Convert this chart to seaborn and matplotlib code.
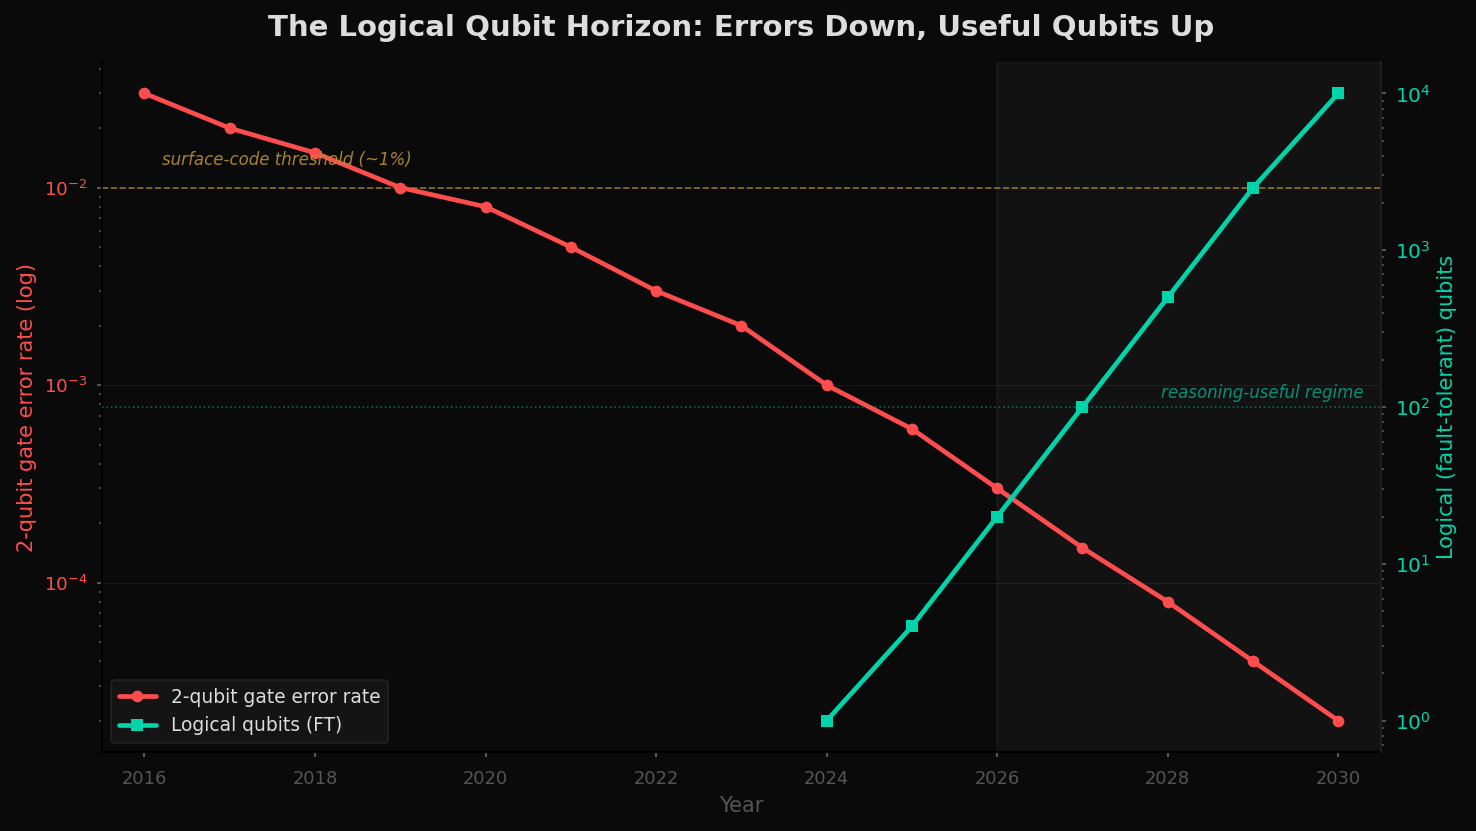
import matplotlib
matplotlib.use("Agg")
import matplotlib.pyplot as plt
import seaborn as sns
import pandas as pd

years = [2016, 2017, 2018, 2019, 2020, 2021, 2022, 2023, 2024, 2025, 2026, 2027, 2028, 2029, 2030]
error_rate = [3e-2, 2e-2, 1.5e-2, 1e-2, 8e-3, 5e-3, 3e-3, 2e-3, 1e-3, 6e-4, 3e-4, 1.5e-4, 8e-5, 4e-5, 2e-5]
lq_years = [2024, 2025, 2026, 2027, 2028, 2029, 2030]
logical_qubits = [1, 4, 20, 100, 500, 2500, 10000]

RED = "#ff4d4d"
GREEN = "#00d4aa"
BG = "#0a0a0a"

sns.set_theme(style="dark")
plt.rcParams["font.family"] = ["DejaVu Sans"]
plt.rcParams.update({
    "figure.facecolor": BG,
    "axes.facecolor": BG,
    "savefig.facecolor": BG,
    "axes.edgecolor": "#1e1e1e",
    "xtick.color": "#555555",
    "ytick.color": "#555555",
})

df_err = pd.DataFrame({"Year": years, "err": error_rate})
df_lq = pd.DataFrame({"Year": lq_years, "lq": logical_qubits})

fig, ax = plt.subplots(figsize=(12.3, 6.925), dpi=120)
fig.subplots_adjust(left=0.069, right=0.9356, top=0.9254, bottom=0.095)

ax.axvspan(2026, 2030.5, facecolor="white", alpha=0.035, edgecolor="#ffffff", linewidth=1.0, zorder=0)

sns.lineplot(data=df_err, x="Year", y="err", ax=ax, color=RED, marker="o", markersize=7,
             markeredgewidth=0, linewidth=2.8, label="2-qubit gate error rate", legend=False, zorder=3)
ax.set_yscale("log")
ax.set_xlim(2015.5, 2030.5)
ax.axhline(1e-2, color="#b8902f", linestyle="--", linewidth=1.0, alpha=0.75, zorder=1)
ax.text(2016.2, 1.3e-2, "surface-code threshold (~1%)", color="#b8902f", style="italic",
        fontsize=10, alpha=0.9)
ax.grid(True, which="major", axis="y", color="#ffffff", alpha=0.06, linewidth=0.7)
ax.grid(False, axis="x")
ax.set_ylabel("2-qubit gate error rate (log)", color=RED, fontsize=12.5)
ax.set_xlabel("Year", color="#555555", fontsize=12.5, labelpad=5)
ax.tick_params(axis="y", which="both", colors="#555555", labelcolor=RED, labelsize=11, left=True, pad=5.5)
ax.tick_params(axis="y", which="major", length=3)
ax.tick_params(axis="y", which="minor", length=2)
ax.tick_params(axis="x", colors="#555555", labelsize=10.7, bottom=True, length=3, pad=7.5)
ax.set_xticks([2016, 2018, 2020, 2022, 2024, 2026, 2028, 2030])
for s in ["left", "bottom"]:
    ax.spines[s].set_color("#000000")
ax.spines["top"].set_visible(False)

ax2 = ax.twinx()
sns.lineplot(data=df_lq, x="Year", y="lq", ax=ax2, color=GREEN, marker="s", markersize=7,
             markeredgewidth=0, linewidth=2.8, label="Logical qubits (FT)", legend=False, zorder=3)
ax2.set_yscale("log")
ax2.axhline(100, color=GREEN, linestyle=":", linewidth=1.0, alpha=0.45, zorder=1)
ax2.text(2030.3, 115, "reasoning-useful regime", color=GREEN, style="italic", fontsize=10,
         alpha=0.65, ha="right")
ax2.set_ylabel("Logical (fault-tolerant) qubits", color=GREEN, fontsize=12.5)
ax2.tick_params(axis="y", which="both", colors="#555555", labelcolor=GREEN, labelsize=12, right=True, pad=5.5)
ax2.tick_params(axis="y", which="major", length=3)
ax2.tick_params(axis="y", which="minor", length=2)
ax2.grid(False)
ax2.spines["top"].set_visible(False)
ax2.spines["left"].set_visible(False)
ax2.spines["right"].set_color("#1e1e1e")
ax2.spines["bottom"].set_visible(False)

h1, l1 = ax.get_legend_handles_labels()
h2, l2 = ax2.get_legend_handles_labels()
leg = ax.legend(h1 + h2, l1 + l2, loc="lower left", fontsize=11.2, facecolor="#141414",
                edgecolor="#222222", framealpha=1.0, labelcolor="#dddddd")
leg.set_zorder(10)

ax.text(0.5, 1 + 34 / 690, "The Logical Qubit Horizon: Errors Down, Useful Qubits Up",
        transform=ax.transAxes, ha="center", va="center", color="#dddddd",
        fontsize=17.5, fontweight="bold")

fig.savefig("out.png", dpi=120)
